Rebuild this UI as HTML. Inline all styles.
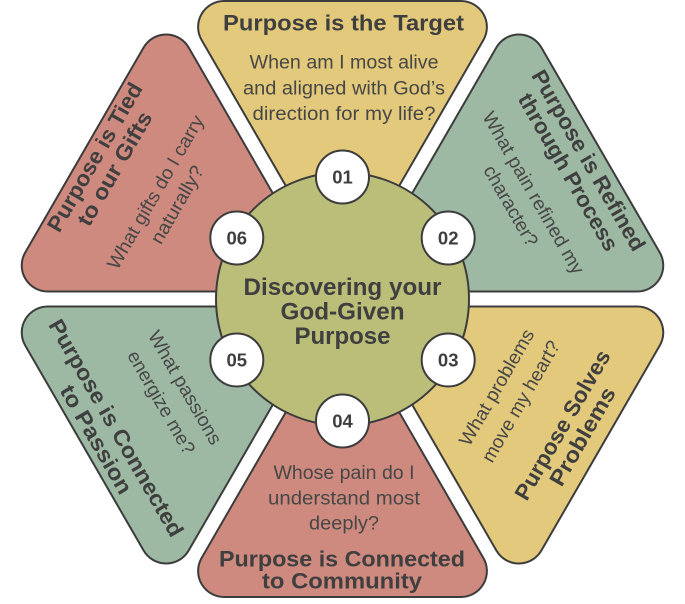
<!DOCTYPE html>
<html>
<head>
<meta charset="utf-8">
<style>
  html,body{margin:0;padding:0;background:#ffffff;}
  svg{display:block;}
  text{font-family:"Liberation Sans", "DejaVu Sans", sans-serif; fill:#3f3f3f;}
  .t{font-weight:bold;font-size:22px;}
  .s{font-size:19px;fill:#474747;}
  .n{font-weight:bold;font-size:18.5px;}
</style>
</head>
<body>
<svg width="685" height="604" viewBox="0 0 685 604" xmlns="http://www.w3.org/2000/svg">
  <defs>
    <path id="tri" d="M0,-15 L-140.9,-259 A26,26 0 0 1 -118.4,-298 L118.4,-298 A26,26 0 0 1 140.9,-259 Z"/>
  </defs>
  <g transform="translate(342.5,299)">
    <!-- triangles -->
    <use href="#tri" fill="#E3C97B" stroke="#3c3c3c" stroke-width="2"/>
    <use href="#tri" transform="rotate(60)" fill="#9DB9A3" stroke="#3c3c3c" stroke-width="2"/>
    <use href="#tri" transform="rotate(120)" fill="#E3C97B" stroke="#3c3c3c" stroke-width="2"/>
    <use href="#tri" transform="rotate(180)" fill="#CE8A7E" stroke="#3c3c3c" stroke-width="2"/>
    <use href="#tri" transform="rotate(240)" fill="#9DB9A3" stroke="#3c3c3c" stroke-width="2"/>
    <use href="#tri" transform="rotate(300)" fill="#CE8A7E" stroke="#3c3c3c" stroke-width="2"/>

    <!-- center circle -->
    <circle cx="0" cy="0" r="126.5" fill="#BBBE78" stroke="#3c3c3c" stroke-width="2"/>

    <!-- number circles -->
    <g fill="#ffffff" stroke="#3c3c3c" stroke-width="2">
      <circle cx="0" cy="-122" r="26.5"/>
      <circle cx="105.7" cy="-61" r="26.5"/>
      <circle cx="105.7" cy="61" r="26.5"/>
      <circle cx="0" cy="122" r="26.5"/>
      <circle cx="-105.7" cy="61" r="26.5"/>
      <circle cx="-105.7" cy="-61" r="26.5"/>
    </g>
    <g text-anchor="middle">
      <text class="n" x="0" y="-115.5">01</text>
      <text class="n" x="105.7" y="-54.5">02</text>
      <text class="n" x="105.7" y="67.5">03</text>
      <text class="n" x="0" y="128.5">04</text>
      <text class="n" x="-105.7" y="67.5">05</text>
      <text class="n" x="-105.7" y="-54.5">06</text>
    </g>

    <!-- center title -->
    <g text-anchor="middle" font-weight="bold" font-size="24">
      <text x="0" y="-4" textLength="198" lengthAdjust="spacingAndGlyphs">Discovering your</text>
      <text x="0" y="20.5" textLength="124" lengthAdjust="spacingAndGlyphs">God-Given</text>
      <text x="0" y="45" textLength="96" lengthAdjust="spacingAndGlyphs">Purpose</text>
    </g>

    <!-- top triangle -->
    <g text-anchor="middle">
      <text class="t" x="1" y="-268.3" font-size="23.5" textLength="241" lengthAdjust="spacingAndGlyphs">Purpose is the Target</text>
      <text class="s" x="1.5" y="-230.7" textLength="189" lengthAdjust="spacingAndGlyphs">When am I most alive</text>
      <text class="s" x="1.5" y="-204.7" textLength="202" lengthAdjust="spacingAndGlyphs">and aligned with God’s</text>
      <text class="s" x="1.5" y="-179" textLength="183" lengthAdjust="spacingAndGlyphs">direction for my life?</text>
    </g>

    <!-- upper-right -->
    <g text-anchor="middle" transform="rotate(60)">
      <text class="t" x="3" y="-275" textLength="205" lengthAdjust="spacingAndGlyphs">Purpose is Refined</text>
      <text class="t" x="3" y="-251.5" textLength="178" lengthAdjust="spacingAndGlyphs">through Process</text>
      <text class="s" x="3.5" y="-212" textLength="184" lengthAdjust="spacingAndGlyphs">What pain refined my</text>
      <text class="s" x="3.5" y="-186" textLength="90" lengthAdjust="spacingAndGlyphs">character?</text>
    </g>

    <!-- upper-left -->
    <g text-anchor="middle" transform="rotate(-60)">
      <text class="t" x="-1" y="-278" textLength="168" lengthAdjust="spacingAndGlyphs">Purpose is Tied</text>
      <text class="t" x="-1" y="-255" textLength="128" lengthAdjust="spacingAndGlyphs">to our Gifts</text>
      <text class="s" x="-1" y="-209" textLength="174" lengthAdjust="spacingAndGlyphs">What gifts do I carry</text>
      <text class="s" x="-1" y="-184" textLength="87" lengthAdjust="spacingAndGlyphs">naturally?</text>
    </g>

    <!-- bottom -->
    <g text-anchor="middle">
      <text class="s" x="1.5" y="180" textLength="141" lengthAdjust="spacingAndGlyphs">Whose pain do I</text>
      <text class="s" x="1.5" y="205.3" textLength="152" lengthAdjust="spacingAndGlyphs">understand most</text>
      <text class="s" x="1.5" y="230.3" textLength="70" lengthAdjust="spacingAndGlyphs">deeply?</text>
      <text class="t" x="-0.5" y="267.7" textLength="246" lengthAdjust="spacingAndGlyphs">Purpose is Connected</text>
      <text class="t" x="-0.5" y="289.3" textLength="160" lengthAdjust="spacingAndGlyphs">to Community</text>
    </g>

    <!-- lower-right -->
    <g text-anchor="middle" transform="rotate(-60)">
      <text class="s" x="0.5" y="184" textLength="131" lengthAdjust="spacingAndGlyphs">What problems</text>
      <text class="s" x="0.5" y="212" textLength="137" lengthAdjust="spacingAndGlyphs">move my heart?</text>
      <text class="t" x="1" y="261" textLength="169" lengthAdjust="spacingAndGlyphs">Purpose Solves</text>
      <text class="t" x="1" y="284" textLength="110" lengthAdjust="spacingAndGlyphs">Problems</text>
    </g>

    <!-- lower-left -->
    <g text-anchor="middle" transform="rotate(60)">
      <text class="s" x="-2" y="187" textLength="128" lengthAdjust="spacingAndGlyphs">What passions</text>
      <text class="s" x="-1" y="215" textLength="116" lengthAdjust="spacingAndGlyphs">energize me?</text>
      <text class="t" x="-1.5" y="268" textLength="247" lengthAdjust="spacingAndGlyphs">Purpose is Connected</text>
      <text class="t" x="-1.5" y="291" textLength="122" lengthAdjust="spacingAndGlyphs">to Passion</text>
    </g>
  </g>
</svg>
</body>
</html>
